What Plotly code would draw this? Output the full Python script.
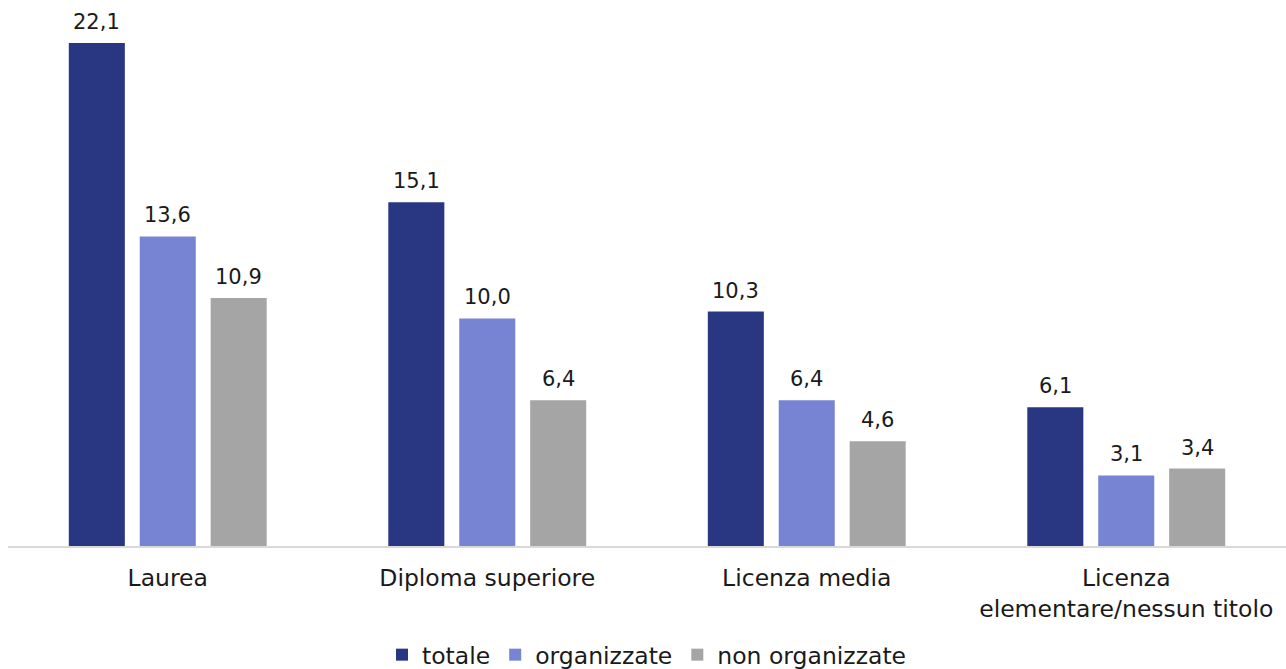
import plotly.graph_objects as go

categories = ["Laurea", "Diploma superiore", "Licenza media", "Licenza<br>elementare/nessun titolo"]
totale = [22.1, 15.1, 10.3, 6.1]
organizzate = [13.6, 10.0, 6.4, 3.1]
non_organizzate = [10.9, 6.4, 4.6, 3.4]

series = [
    ("totale", totale, "#293682"),
    ("organizzate", organizzate, "#7784D4"),
    ("non organizzate", non_organizzate, "#A5A5A5"),
]

FONT = "'DejaVu Sans', sans-serif"
TEXT = "#1a1a1a"
BAR_PITCH = 71  # horizontal distance between bars of one group, px

fig = go.Figure()
annotations = []
for i, (name, vals, color) in enumerate(series):
    fig.add_trace(go.Bar(
        x=categories, y=vals, name=name,
        marker=dict(color=color, line=dict(width=0)),
        hoverinfo="x+y+name",
    ))
    for cat, v in zip(categories, vals):
        annotations.append(dict(
            x=cat, y=v, xref="x", yref="y",
            text=f"{v:.1f}".replace(".", ","),
            showarrow=False, xanchor="center", yanchor="bottom",
            xshift=(i - 1) * BAR_PITCH, yshift=7,
            font=dict(family=FONT, size=21, color=TEXT),
        ))

fig.update_layout(
    width=1286, height=669,
    barmode="group", bargap=0.334, bargroupgap=0.21,
    separators=",.",
    margin=dict(l=8, r=0, t=20, b=123, autoexpand=False),
    paper_bgcolor="white", plot_bgcolor="white",
    font=dict(family=FONT, size=23.5, color=TEXT),
    showlegend=True,
    legend=dict(orientation="h", x=0.5, xanchor="center", y=-0.207, yanchor="middle",
                font=dict(family=FONT, size=23.5, color=TEXT),
                traceorder="normal"),
    annotations=annotations,
)
fig.update_xaxes(showline=True, linecolor="#D9D9D9", linewidth=1.5, ticks="",
                 tickfont=dict(family=FONT, size=23.5, color=TEXT), ticklabelstandoff=10,
                 showgrid=False, automargin=False)
fig.update_yaxes(range=[0, 23.11], visible=False, showgrid=False, zeroline=False,
                 automargin=False)

fig.write_html("out.html")
